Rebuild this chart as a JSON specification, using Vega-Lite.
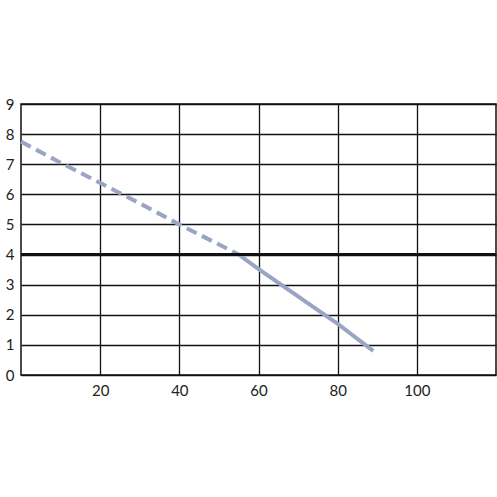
{
  "$schema": "https://vega.github.io/schema/vega-lite/v6.json",
  "autosize": "none",
  "padding": {"left": 21, "top": 104, "right": 1, "bottom": 122},
  "width": 475,
  "height": 271,
  "config": {
    "view": {"stroke": "#111", "strokeWidth": 1.5},
    "axis": {
      "labelFont": "Lato",
      "labelFontSize": 15,
      "labelColor": "#222",
      "labelOverlap": false,
      "gridColor": "#111",
      "gridOpacity": 1,
      "gridWidth": 1.3,
      "ticks": false,
      "domain": false,
      "title": null
    }
  },
  "data": {
    "values": [
      {"x": 0, "y": 7.75, "seg": "dashed"},
      {"x": 10, "y": 7.05, "seg": "dashed"},
      {"x": 20, "y": 6.38, "seg": "dashed"},
      {"x": 30, "y": 5.7, "seg": "dashed"},
      {"x": 40, "y": 5.0, "seg": "dashed"},
      {"x": 55, "y": 4.0, "seg": "dashed"},
      {"x": 55, "y": 4.0, "seg": "solid"},
      {"x": 60, "y": 3.52, "seg": "solid"},
      {"x": 80, "y": 1.7, "seg": "solid"},
      {"x": 89, "y": 0.8, "seg": "solid"}
    ]
  },
  "encoding": {
    "y": {
      "type": "quantitative",
      "scale": {"domain": [0, 9], "nice": false},
      "axis": {"values": [0, 1, 2, 3, 4, 5, 6, 7, 8, 9], "labelPadding": 7}
    }
  },
  "layer": [
    {
      "mark": {"type": "line", "strokeWidth": 4, "color": "#9aa4c4", "strokeCap": "butt"},
      "encoding": {
        "x": {
          "field": "x",
          "type": "quantitative",
          "scale": {"domain": [0, 120], "nice": false},
          "axis": {"values": [20, 40, 60, 80, 100], "labelPadding": 8}
        },
        "y": {
          "field": "y",
          "type": "quantitative",
          "scale": {"domain": [0, 9], "nice": false},
          "axis": {"values": [0, 1, 2, 3, 4, 5, 6, 7, 8, 9], "labelPadding": 7}
        },
        "strokeDash": {
          "field": "seg",
          "type": "nominal",
          "scale": {"domain": ["dashed", "solid"], "range": [[11, 6], [1, 0]]},
          "legend": null
        }
      }
    },
    {
      "mark": {"type": "rule", "color": "#111", "strokeWidth": 2.5},
      "encoding": {
        "y": {
          "datum": 4,
          "type": "quantitative",
          "axis": {"values": [0, 1, 2, 3, 4, 5, 6, 7, 8, 9], "labelPadding": 7}
        }
      }
    }
  ]
}
